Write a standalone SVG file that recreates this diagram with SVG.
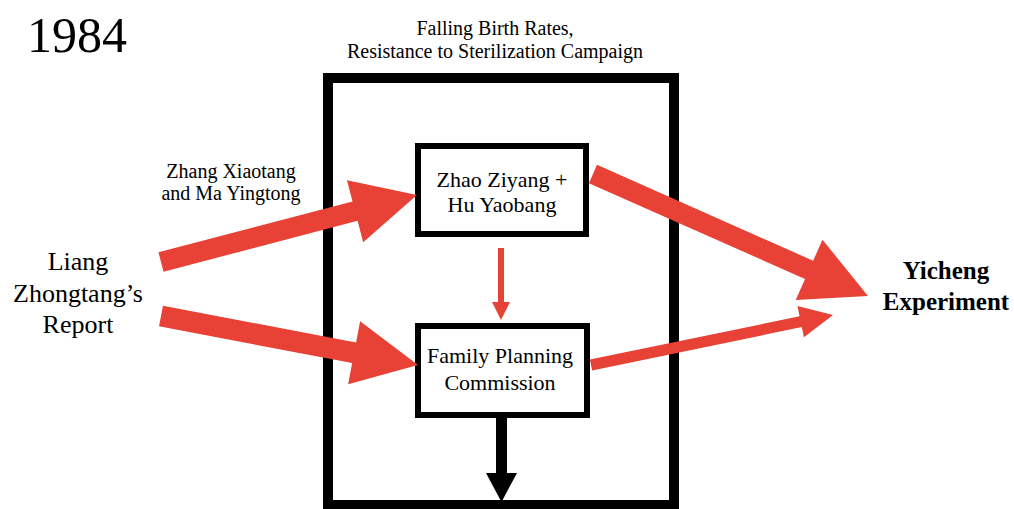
<svg xmlns="http://www.w3.org/2000/svg" width="1014" height="509" viewBox="0 0 1014 509">
<style>
  .t { font-family: "Liberation Serif", "Times New Roman", serif; fill: #000; text-anchor: middle; }
  .box { fill: #fff; stroke: #000; }
  .red { fill: #e84135; }
</style>
<rect width="1014" height="509" fill="#fff"/>
<text class="t" x="27" y="52" font-size="50" style="text-anchor:start">1984</text>
<g id="context">
  <rect x="328" y="78" width="346" height="427" stroke="#000" stroke-width="10" fill="none"/>
  <text class="t" font-size="20" x="495" y="35">Falling Birth Rates,</text>
  <text class="t" font-size="20" x="495" y="58">Resistance to Sterilization Campaign</text>
</g>
<g id="liang">
  <text class="t" font-size="26" x="78" y="270">Liang</text>
  <text class="t" font-size="26" x="78" y="302">Zhongtang’s</text>
  <text class="t" font-size="26" x="78" y="333">Report</text>
</g>
<g id="zhao">
  <rect class="box" x="418" y="146" width="168" height="88" stroke-width="6"/>
  <text class="t" font-size="22" x="502" y="187">Zhao Ziyang +</text>
  <text class="t" font-size="22" x="502" y="212">Hu Yaobang</text>
</g>
<g id="fpc">
  <rect class="box" x="418" y="326" width="169" height="89" stroke-width="6"/>
  <text class="t" font-size="22" x="500" y="363">Family Planning</text>
  <text class="t" font-size="22" x="500" y="390">Commission</text>
</g>
<g id="yicheng">
  <text class="t" font-size="25" font-weight="bold" x="946" y="279">Yicheng</text>
  <text class="t" font-size="25" font-weight="bold" x="946" y="310">Experiment</text>
</g>
<g id="connectors">
  <polygon class="red" transform="translate(161,262) rotate(-14.67)" points="0,-10 200.6,-10 200.6,-32 264.6,0 200.6,32 200.6,10 0,10"/>
  <text class="t" font-size="20" x="231" y="178">Zhang Xiaotang</text>
  <text class="t" font-size="20" x="231" y="200">and Ma Yingtong</text>
  <polygon class="red" transform="translate(161,316) rotate(10.79)" points="0,-10.5 196.6,-10.5 196.6,-32 261.6,0 196.6,32 196.6,10.5 0,10.5"/>
  <polygon class="red" transform="translate(593,174) rotate(23.92)" points="0,-10 236.4,-10 236.4,-33 300.8,0 236.4,33 236.4,10 0,10"/>
  <polygon class="red" transform="translate(591,365) rotate(-11.67)" points="0,-5.5 214.1,-5.5 214.1,-16 247.1,0 214.1,16 214.1,5.5 0,5.5"/>
  <polygon class="red" points="498,248 504,248 504,302 510,302 501,320 492,302 498,302"/>
  <polygon fill="#000" points="496,418 507,418 507,473 517,473 501.5,502 486,473 496,473"/>
</g>
</svg>
